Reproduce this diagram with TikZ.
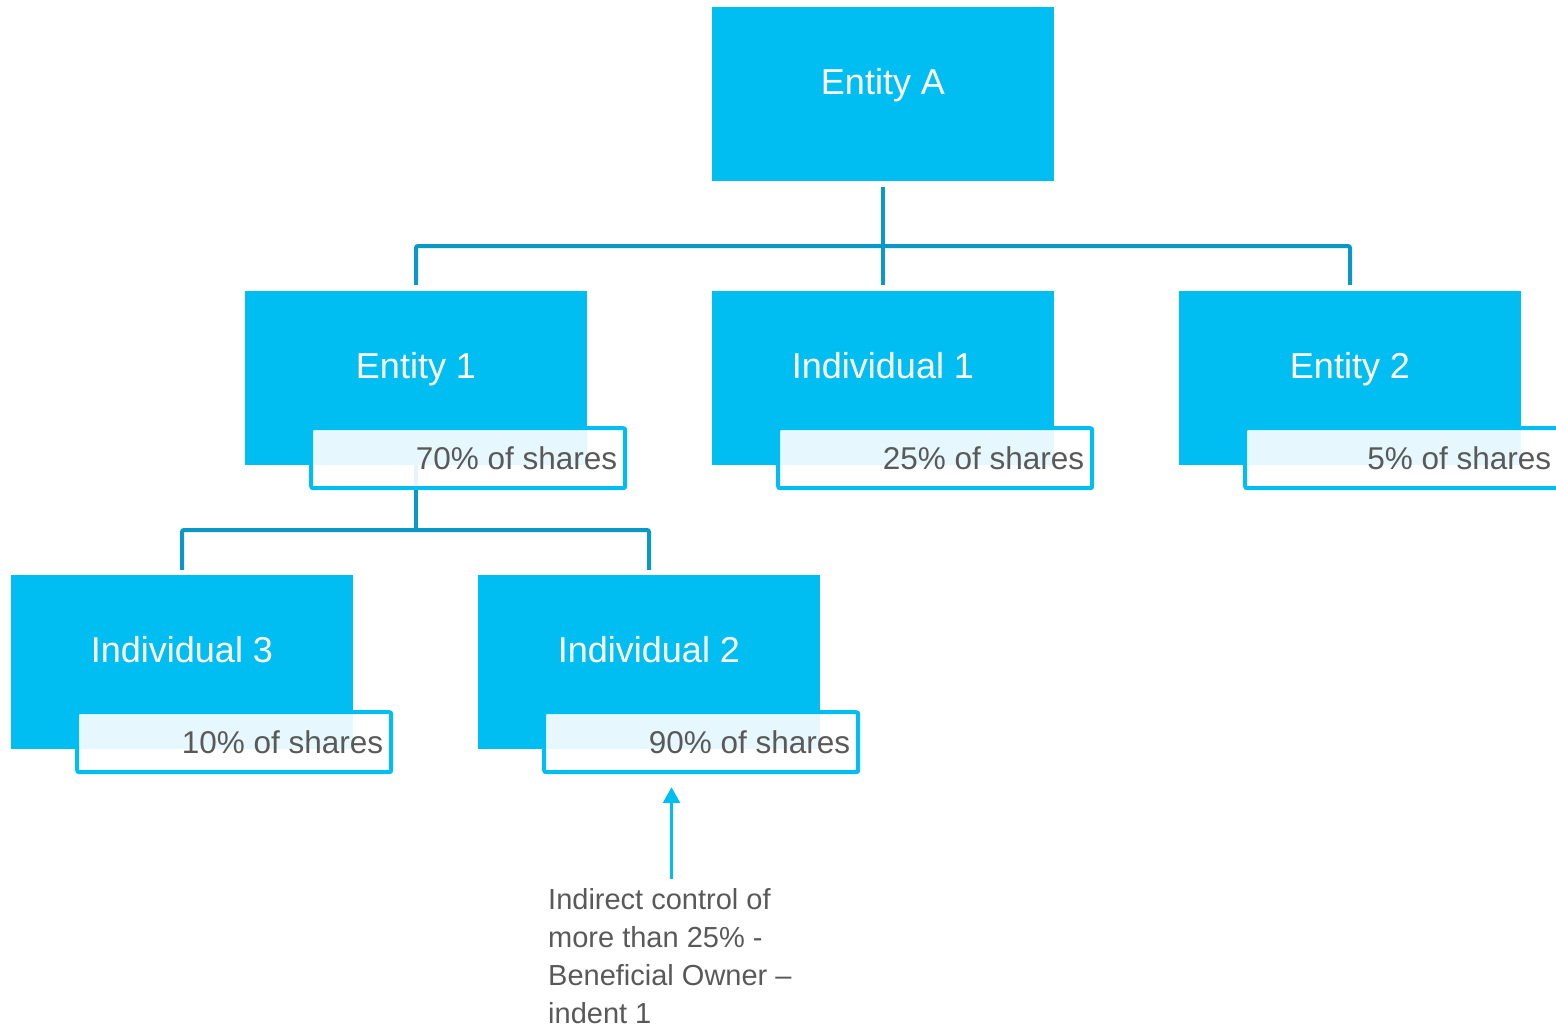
\documentclass[tikz,border=0pt]{standalone}
\usepackage{fontspec}
\setmainfont{Liberation Sans}
\usetikzlibrary{arrows.meta,calc}
\definecolor{boxcyan}{HTML}{00BEF2}
\definecolor{connblue}{HTML}{0A99C6}
\definecolor{txtgrey}{HTML}{595959}
\begin{document}
\begin{tikzpicture}[x=1pt,y=-1pt,
  entbox/.style={rectangle,fill=boxcyan,inner sep=0pt,minimum width=342pt,minimum height=174pt,
    text=white,font=\fontsize{36}{40}\selectfont,text height=0pt,text depth=0pt},
  sharebox/.style={rectangle,draw=boxcyan,line width=4pt,fill=white,fill opacity=0.9,text opacity=1,
    rounded corners=2pt,inner sep=0pt,minimum width=314pt,minimum height=60pt,
    text=txtgrey,font=\fontsize{31.5}{36}\selectfont,text height=23pt,text depth=0pt},
  conn/.style={draw=connblue,line width=4pt,rounded corners=2pt},
  pointer/.style={draw=boxcyan,line width=3pt,-{Triangle[width=17pt,length=16pt]}},
  notetext/.style={inner sep=0pt,align=left,text=txtgrey,font=\fontsize{29}{38}\selectfont}
]
\useasboundingbox (0,0) rectangle (1556,1029);
\clip (0,0) rectangle (1556,1029);

% boxes
\node[entbox] (A)  at (883,94)  {Entity A};
\node[entbox] (E1) at (416,378) {Entity 1};
\node[entbox] (I1) at (883,378) {Individual 1};
\node[entbox] (E2) at (1350,378) {Entity 2};
\node[entbox] (I3) at (182,662) {Individual 3};
\node[entbox] (I2) at (649,662) {Individual 2};

% connectors
\coordinate (busA) at (883,246);
\coordinate (busB) at (416,530);
\draw[conn,shorten <=6pt,shorten >=6pt] (A.south) -- (I1.north);
\draw[conn,shorten <=6pt,shorten >=6pt] (E1.north) |- (busA) -| (E2.north);
\draw[conn] (E1.south) -- (busB);
\draw[conn,shorten <=5pt,shorten >=5pt] (I3.north) |- (busB) -| (I2.north);

% share labels
\node[sharebox] (L1)  at ($(E1.south east)+(-119,-7)$) {\makebox[298pt][r]{70\% of shares}};
\node[sharebox] (LI1) at ($(I1.south east)+(-119,-7)$) {\makebox[298pt][r]{25\% of shares}};
\node[sharebox] (L2E) at ($(E2.south east)+(-119,-7)$) {\makebox[298pt][r]{5\% of shares}};
\node[sharebox] (L3)  at ($(I3.south east)+(-119,-7)$) {\makebox[298pt][r]{10\% of shares}};
\node[sharebox] (L2)  at ($(I2.south east)+(-119,-7)$) {\makebox[298pt][r]{90\% of shares}};

% note and pointer
\node[notetext,anchor=north west] (note) at (548,888)
  {Indirect control of\\more than 25\% -\\Beneficial Owner –\\indent 1};
\coordinate (arrS) at (671.5,879);
\draw[pointer,shorten >=13pt] (arrS) -- (arrS |- L2.south);
\end{tikzpicture}
\end{document}
